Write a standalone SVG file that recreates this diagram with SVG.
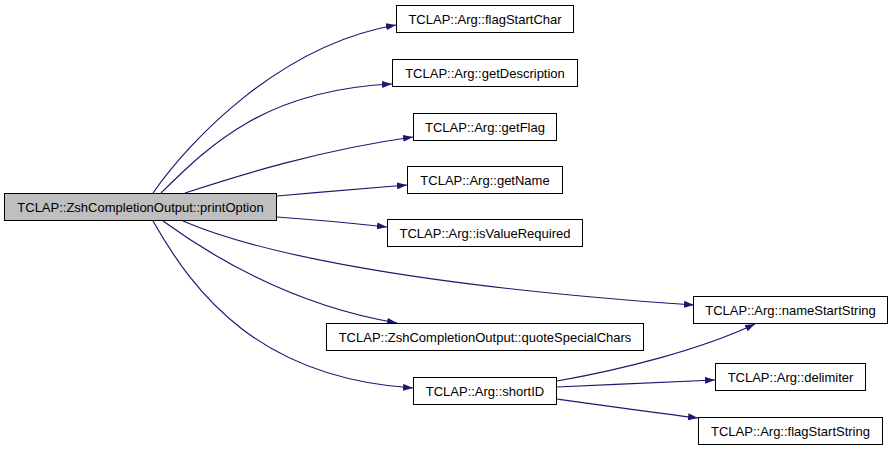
<svg xmlns="http://www.w3.org/2000/svg" width="893" height="451" viewBox="0 0 893 451">
<style>
.n rect{fill:#fff;stroke:#000;stroke-width:1}
.n.main rect{fill:#bfbfbf}
.n text{font-family:"Liberation Sans",Arial,sans-serif;font-size:13px;fill:#000;text-anchor:middle}
.e path{fill:none;stroke:#191970;stroke-width:1.2;marker-end:url(#ah)}
</style>
<defs>
<marker id="ah" viewBox="0 0 10 7" refX="10" refY="3.5" markerWidth="10" markerHeight="7" markerUnits="userSpaceOnUse" orient="auto">
<path d="M0,0 L10,3.5 L0,7 z" fill="#191970"/>
</marker>
</defs>
<g id="edges" class="e">
<path d="M153,193 C190,140 280,45 396,25"/>
<path d="M161,193 C210,145 265,90 392,84"/>
<path d="M185,193 C240,175 320,150 413,137"/>
<path d="M277,196 C320,192 360,189 407,185"/>
<path d="M277,217 C320,220 350,223 387,227"/>
<path d="M183,221 C250,250 400,285 694,305"/>
<path d="M163,221 C210,255 290,305 397,323"/>
<path d="M153,221 C195,295 260,378 413,388"/>
<path d="M557,381 C620,370 700,350 755,324"/>
<path d="M557,387 C610,385 660,382 715,380"/>
<path d="M557,399 C600,405 650,412 698,418"/>
</g>
<g id="printOption" class="n main"><rect x="4.5" y="193.5" width="272" height="27"/><text x="140.5" y="211.5">TCLAP::ZshCompletionOutput::printOption</text></g>
<g id="flagStartChar" class="n"><rect x="396.5" y="5.5" width="177" height="27"/><text x="485" y="23.5">TCLAP::Arg::flagStartChar</text></g>
<g id="getDescription" class="n"><rect x="392.5" y="59.5" width="185" height="27"/><text x="485" y="77.5">TCLAP::Arg::getDescription</text></g>
<g id="getFlag" class="n"><rect x="413.5" y="113.5" width="143" height="27"/><text x="485" y="131.5">TCLAP::Arg::getFlag</text></g>
<g id="getName" class="n"><rect x="407.5" y="166.5" width="155" height="27"/><text x="485" y="184.5">TCLAP::Arg::getName</text></g>
<g id="isValueRequired" class="n"><rect x="387.5" y="219.5" width="195" height="27"/><text x="485" y="237.5">TCLAP::Arg::isValueRequired</text></g>
<g id="nameStartString" class="n"><rect x="693.5" y="296.5" width="194" height="27"/><text x="790.5" y="314.5">TCLAP::Arg::nameStartString</text></g>
<g id="quoteSpecialChars" class="n"><rect x="326.5" y="323.5" width="317" height="27"/><text x="485" y="341.5">TCLAP::ZshCompletionOutput::quoteSpecialChars</text></g>
<g id="shortID" class="n"><rect x="413.5" y="377.5" width="143" height="27"/><text x="485" y="395.5">TCLAP::Arg::shortID</text></g>
<g id="delimiter" class="n"><rect x="715.5" y="363.5" width="150" height="27"/><text x="790.5" y="381.5">TCLAP::Arg::delimiter</text></g>
<g id="flagStartString" class="n"><rect x="698.5" y="417.5" width="184" height="27"/><text x="790.5" y="435.5">TCLAP::Arg::flagStartString</text></g>
</svg>
